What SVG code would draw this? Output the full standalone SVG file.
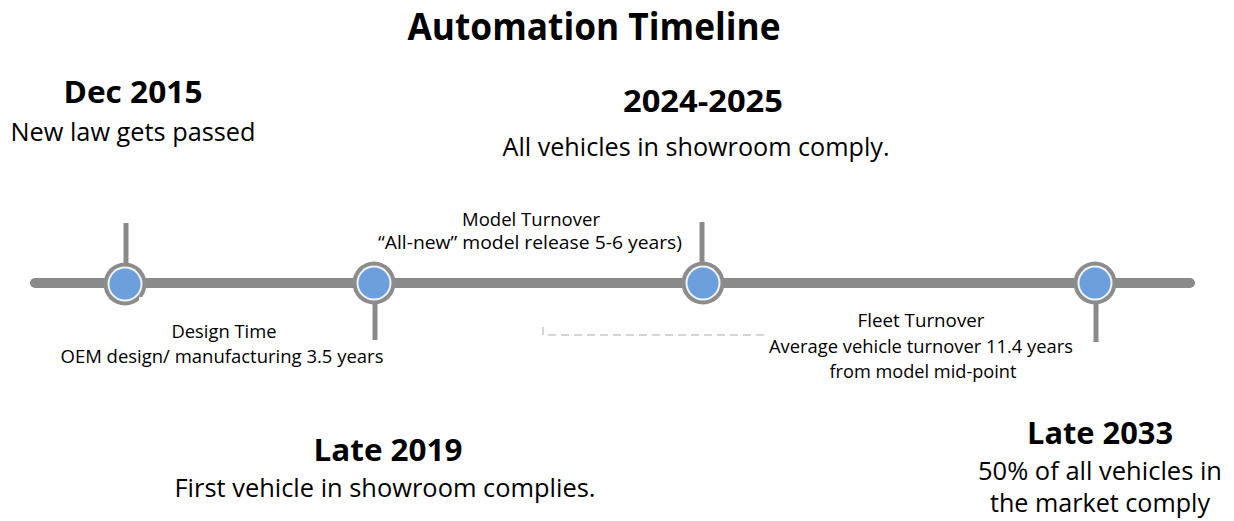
<svg xmlns="http://www.w3.org/2000/svg" width="1234" height="521" viewBox="0 0 1234 521">
<style>
text{font-family:"Open Sans","Liberation Sans",sans-serif;fill:#000;text-anchor:middle}
.t{font-weight:bold;font-size:37px}
.h{font-weight:bold;font-size:31px}
.s{font-size:25px}
.m{font-size:18.5px}
.ln{stroke:#8a8a8a;stroke-width:10;stroke-linecap:round;fill:none}
.tk{stroke:#8a8a8a;stroke-width:5;fill:none}
.ring{fill:#8c8c8c}
.gap{fill:#eef4fb}
.dot{fill:#6c9fdc}
</style>
<rect width="1234" height="521" fill="#fff"/>
<text class="t" x="594" y="40" textLength="373" lengthAdjust="spacingAndGlyphs">Automation Timeline</text>
<g id="connectors">
<line class="ln" x1="35" y1="283" x2="1190" y2="283"/>
<line class="tk" x1="126" y1="223" x2="126" y2="266"/>
<line class="tk" x1="375" y1="300" x2="375" y2="340"/>
<line class="tk" x1="702" y1="222" x2="702" y2="265"/>
<line class="tk" x1="1096" y1="300" x2="1096" y2="342"/>
<path d="M543 327 V335 H765" stroke="#c8c8c8" stroke-width="1.5" stroke-dasharray="8 5" fill="none"/>
</g>
<g id="node-dec2015">
<circle class="ring" cx="125" cy="284" r="21.5"/>
<circle class="gap" cx="125" cy="284" r="17.5"/>
<circle class="dot" cx="125" cy="284" r="15.5"/>
<rect x="139" y="297" width="12" height="14" fill="#fff"/>
<text class="h" x="133" y="103" textLength="139" lengthAdjust="spacingAndGlyphs">Dec 2015</text>
<text class="s" x="133" y="141" textLength="245" lengthAdjust="spacingAndGlyphs">New law gets passed</text>
</g>
<g id="node-late2019">
<circle class="ring" cx="374" cy="283" r="21.5"/>
<circle class="gap" cx="374" cy="283" r="17.5"/>
<circle class="dot" cx="374" cy="283" r="15.5"/>
<text class="h" x="388" y="461" textLength="149" lengthAdjust="spacingAndGlyphs">Late 2019</text>
<text class="s" x="385" y="497" textLength="421" lengthAdjust="spacingAndGlyphs">First vehicle in showroom complies.</text>
</g>
<g id="node-2024">
<circle class="ring" cx="703" cy="283" r="21.5"/>
<circle class="gap" cx="703" cy="283" r="17.5"/>
<circle class="dot" cx="703" cy="283" r="15.5"/>
<text class="h" x="703" y="112" textLength="160" lengthAdjust="spacingAndGlyphs">2024-2025</text>
<text class="s" x="696" y="156" textLength="387" lengthAdjust="spacingAndGlyphs">All vehicles in showroom comply.</text>
</g>
<g id="node-late2033">
<circle class="ring" cx="1095" cy="283" r="21.5"/>
<circle class="gap" cx="1095" cy="283" r="17.5"/>
<circle class="dot" cx="1095" cy="283" r="15.5"/>
<text class="h" x="1100" y="444" textLength="146" lengthAdjust="spacingAndGlyphs">Late 2033</text>
<text class="s" x="1100" y="480" textLength="244" lengthAdjust="spacingAndGlyphs">50% of all vehicles in</text>
<text class="s" x="1100" y="512" textLength="220" lengthAdjust="spacingAndGlyphs">the market comply</text>
</g>
<g id="label-design">
<text class="m" x="224" y="338" textLength="105" lengthAdjust="spacingAndGlyphs">Design Time</text>
<text class="m" x="222" y="363" textLength="323" lengthAdjust="spacingAndGlyphs">OEM design/ manufacturing 3.5 years</text>
</g>
<g id="label-model">
<text class="m" x="531" y="226" textLength="138" lengthAdjust="spacingAndGlyphs">Model Turnover</text>
<text class="m" x="530" y="249" textLength="304" lengthAdjust="spacingAndGlyphs">“All-new” model release 5-6 years)</text>
</g>
<g id="label-fleet">
<text class="m" x="921" y="327" textLength="127" lengthAdjust="spacingAndGlyphs">Fleet Turnover</text>
<text class="m" x="921" y="353" textLength="304" lengthAdjust="spacingAndGlyphs">Average vehicle turnover 11.4 years</text>
<text class="m" x="923" y="378" textLength="187" lengthAdjust="spacingAndGlyphs">from model mid-point</text>
</g>
</svg>
